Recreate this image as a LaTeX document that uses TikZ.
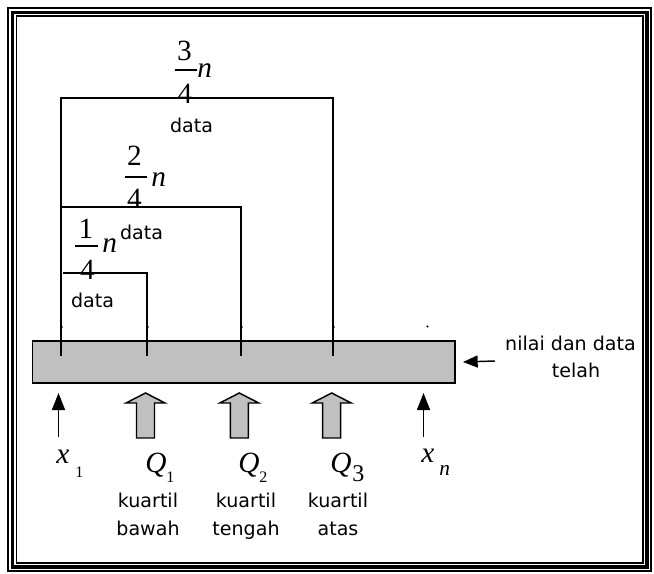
\documentclass[tikz,border=0pt]{standalone}
\usepackage{fontspec}
\setmainfont{Liberation Serif}
\newfontfamily\labfont{DejaVu Sans}
\usetikzlibrary{arrows.meta}
\definecolor{barcol}{RGB}{192,192,192}
\begin{document}
\begin{tikzpicture}[x=0.75pt,y=-0.75pt,
  brk/.style={line width=1.1pt},
  fbar/.style={line width=0.8pt},
  mth/.style={font=\fontsize{22}{22}\selectfont, inner sep=0pt},
  subs/.style={font=\fontsize{12}{12}\selectfont, inner sep=0pt, anchor=base west},
  lab/.style={font=\labfont\fontsize{14.3}{16}\selectfont, inner sep=0pt, anchor=base},
  thinarrow/.style={line width=1.1pt, -{Triangle[length=12.75pt,width=9.75pt]}},
  blockup/.pic={\draw[line width=1.1pt, fill=barcol, line join=miter]
    (0,0) -- (19.5,10) -- (9,10) -- (9,45) -- (-9,45) -- (-9,10) -- (-19.5,10) -- cycle;}
]
\useasboundingbox (0,0) rectangle (654,574);
% frame
\draw[line width=1.5pt] (8.3,8.3) rectangle (650.5,571);
\draw[line width=2.5pt] (12.3,12.3) rectangle (647,567);
\draw[line width=1.2pt] (16.3,16.3) rectangle (643,563);

% sorted data bar
\node[draw, fill=barcol, line width=1.1pt, inner sep=0pt,
      minimum width=316.9pt, minimum height=31.5pt] (bar) at (243.75,362) {};

% brackets
\coordinate (L0) at (61,356);
\coordinate (L3) at (61,98);
\coordinate (R3) at (333,98);
\coordinate (R3b) at (333,356);
\coordinate (L2) at (61,207);
\coordinate (R2) at (241,207);
\coordinate (R2b) at (241,356);
\coordinate (L1) at (63,273);
\coordinate (R1) at (147,273);
\coordinate (R1b) at (147,356);
\draw[brk] (L0) -- (L3) -- (R3) -- (R3b);
\draw[brk] (L2) -- (R2) -- (R2b);
\draw[brk] (L1) -- (R1) -- (R1b);

% small dots
\foreach \xx in {62.5,148.5,242.5,334.5} \fill (\xx,327) circle (0.45pt);
\fill (427.5,326.5) circle (0.8pt);

% fraction 3/4 n
\draw[fbar] (175,70) -- (197,70);
\node[mth] (n3) at (184.5,50.5) {3};
\node[mth] (d3) at (185,94) {4};
\node[mth, anchor=base west] (v3) at (197,78) {\itshape n};
\node[lab] (dt3) at (191.5,133) {data};

% fraction 2/4 n
\draw[fbar] (125,177) -- (147,177);
\node[mth] (n2) at (134.5,156) {2};
\node[mth] (d2) at (134.5,199) {4};
\node[mth, anchor=base west] (v2) at (151,187) {\itshape n};
\node[lab] (dt2) at (141.5,240) {data};

% fraction 1/4 n
\draw[fbar] (75,246) -- (98,246);
\node[mth] (n1) at (86,229) {1};
\node[mth] (d1) at (87.5,270) {4};
\node[mth, anchor=base west] (v1) at (102,253) {\itshape n};
\node[lab] (dt1) at (92.5,308) {data};

% arrows below
\coordinate (a1s) at (58.5,437);
\coordinate (a1e) at (58.5,393);
\coordinate (ans) at (423.5,437);
\coordinate (ane) at (423.5,393);
\draw[thinarrow] (a1s) -- (a1e);
\draw[thinarrow] (ans) -- (ane);
\pic (qa1) at (145.5,393) {blockup};
\pic (qa2) at (239.3,393) {blockup};
\pic (qa3) at (331.7,393) {blockup};

% x and Q labels
\node[mth, anchor=base west] (x1) at (56,463) {\itshape x};
\node[subs] (x1s) at (75,477) {1};
\node[mth, anchor=base west] (q1) at (145,472) {\itshape Q};
\node[subs] (q1s) at (166,482) {1};
\node[mth, anchor=base west] (q2) at (238,472) {\itshape Q};
\node[subs] (q2s) at (259,482) {2};
\node[mth, anchor=base west] (q3) at (330,472) {\itshape Q};
\node[subs, font=\fontsize{18}{18}\selectfont] (q3s) at (352,481) {3};
\node[mth, anchor=base west] (xn) at (421,462) {\itshape x};
\node[subs, font=\fontsize{16}{16}\selectfont] (xns) at (439,475) {\itshape n};

% kuartil labels
\node[lab] (k1a) at (148,507) {kuartil};
\node[lab] (k1b) at (148,535) {bawah};
\node[lab] (k2a) at (246,507) {kuartil};
\node[lab] (k2b) at (246,535) {tengah};
\node[lab] (k3a) at (338,507) {kuartil};
\node[lab] (k3b) at (338,535) {atas};

% right note
\coordinate (ra) at (495,361);
\node[lab] (nl1) at (570.5,350) {nilai dan data};
\node[lab] (nl2) at (576,378) {telah};
\draw[line width=1.1pt, -{Triangle[length=11pt,width=9pt]}] (ra) -- (bar.east -| 463,0);
\end{tikzpicture}
\end{document}
